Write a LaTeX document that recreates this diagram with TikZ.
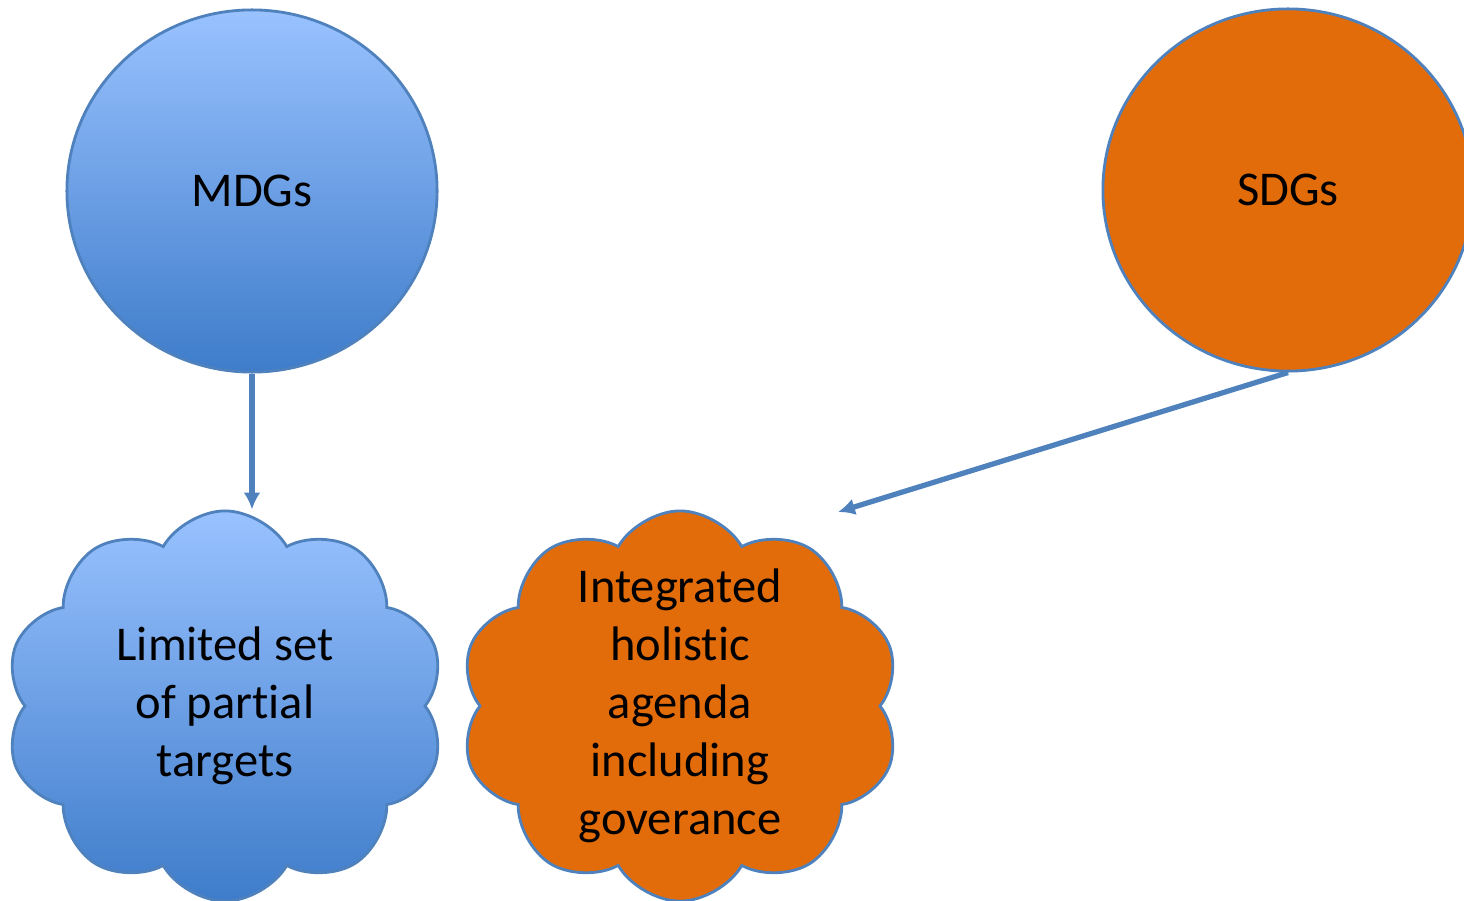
\documentclass[tikz,border=0pt]{standalone}
\usepackage{fontspec}
\setmainfont{Carlito}[RawFeature={-liga;-clig;-dlig;-calt}]
\usetikzlibrary{shapes, shapes.geometric, shapes.symbols, arrows.meta, positioning}
\definecolor{goalblue}{RGB}{79,129,189}
\definecolor{skytop}{RGB}{153,194,255}
\definecolor{skybot}{RGB}{62,124,202}
\definecolor{sdgorange}{RGB}{227,108,10}

\begin{document}
\begin{tikzpicture}[x=0.01cm,y=-0.01cm,
    goal/.style={ellipse,draw=goalblue,line width=0.8pt,minimum width=3.7cm,minimum height=3.62cm,font=\fontsize{13.8}{16.5}\selectfont},
    puff/.style={cloud,cloud puffs=10,cloud puff arc=120,aspect=1.1,draw=goalblue,line width=0.8pt,
                 minimum width=4.4cm,minimum height=3.9cm,align=center,inner sep=-25pt,font=\fontsize{13.8}{16.5}\selectfont},
    blueshade/.style={top color=skytop,bottom color=skybot},
    link/.style={goalblue,line width=1.5pt,-{Latex[length=4.8pt,width=4.8pt]}}]

      \useasboundingbox (0,0) rectangle (1464,900);
      \clip (0,0) rectangle (1464,900);

      \node[goal,blueshade]      (mdg) at (252,191)  {MDGs};
      \node[goal,fill=sdgorange] (sdg) at (1288,190) {SDGs};
      \node[puff,blueshade]      (lim) at (225,706)  {Limited set\\of partial\\targets};
      \node[puff,fill=sdgorange] (hol) at (680,706)  {Integrated\\holistic\\agenda\\including\\goverance};
      \coordinate (hol top) at (838,512);

      \path[link] (mdg) edge (mdg.south |- lim.north)
                  (sdg.south) edge (hol top);
    \end{tikzpicture}
\end{document}
